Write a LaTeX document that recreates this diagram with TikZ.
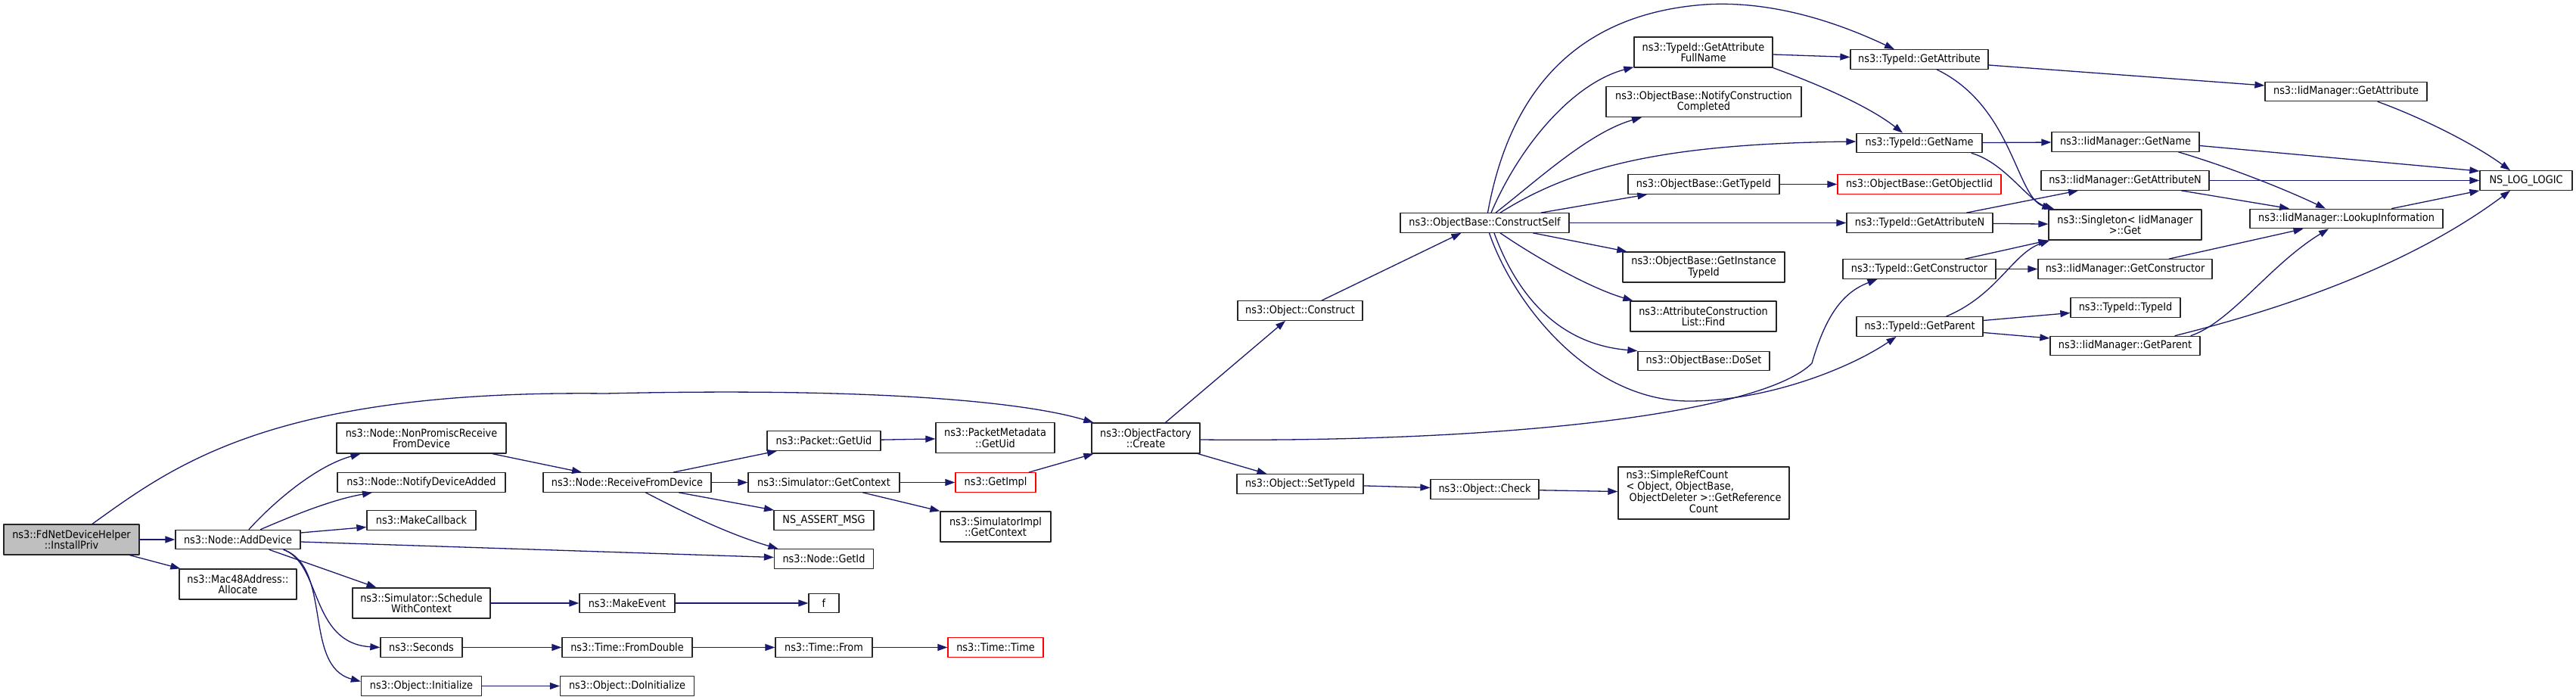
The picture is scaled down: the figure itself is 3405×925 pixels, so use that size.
\documentclass[tikz,border=0pt]{standalone}
\usepackage{fontspec}
\usepackage{tikz}
\usetikzlibrary{arrows.meta}
\newfontfamily\dotfont{DejaVu Sans}[FakeStretch=0.9]
\definecolor{edgeblue}{HTML}{191970}
\definecolor{boxgray}{HTML}{BFBFBF}

\begin{document}
\begin{tikzpicture}[line cap=round,line join=round,>={Triangle[length=13pt,width=9pt]},x=1pt,y=-1pt,
  fn/.style={draw=black!85,line width=1.3pt,fill=white,inner xsep=2pt,inner ysep=1pt,minimum height=25.5pt,align=center,font={\dotfont\fontsize{14.3pt}{14.5pt}\selectfont}},
  fn2/.style={fn,minimum height=40pt},
  call/.style={->,draw=edgeblue,line width=1.3pt}]

\fill[white] (0,0) rectangle (3405,925);
\useasboundingbox (0,0) rectangle (3405,925);

\node[fn2,fill=boxgray,minimum width=179pt] (install) at (94.5,713) {ns3::FdNetDeviceHelper\\::InstallPriv};
\node[fn,minimum width=165pt] (adddev) at (314.5,713) {ns3::Node::AddDevice};
\node[fn2,minimum width=155pt] (alloc) at (314.5,772) {ns3::Mac48Address::\\Allocate};
\node[fn2,minimum width=224pt] (nonprom) at (557,579) {ns3::Node::NonPromiscReceive\\FromDevice};
\node[fn,minimum width=222pt] (notify) at (557,637.5) {ns3::Node::NotifyDeviceAdded};
\node[fn,minimum width=144pt] (makecb) at (557,687.5) {ns3::MakeCallback};
\node[fn2,minimum width=182pt] (sched) at (557,797) {ns3::Simulator::Schedule\\WithContext};
\node[fn,minimum width=108pt] (seconds) at (557,855.5) {ns3::Seconds};
\node[fn,minimum width=159pt] (init) at (557,906.5) {ns3::Object::Initialize};
\node[fn,minimum width=222pt] (recv) at (829,637.5) {ns3::Node::ReceiveFromDevice};
\node[fn,minimum width=126pt] (mkevent) at (829,797) {ns3::MakeEvent};
\node[fn,minimum width=172pt] (fromdbl) at (829,855.5) {ns3::Time::FromDouble};
\node[fn,minimum width=177pt] (doinit) at (829,906.5) {ns3::Object::DoInitialize};
\node[fn,minimum width=150pt] (pktuid) at (1089,582.5) {ns3::Packet::GetUid};
\node[fn,minimum width=200pt] (getctx) at (1089,637.5) {ns3::Simulator::GetContext};
\node[fn,minimum width=132pt] (assertmsg) at (1089,687.5) {NS\_ASSERT\_MSG};
\node[fn,minimum width=131pt] (getid) at (1089,738.5) {ns3::Node::GetId};
\node[fn,minimum width=40pt] (fnf) at (1089,797) {f};
\node[fn,minimum width=128pt] (tfrom) at (1089,855.5) {ns3::Time::From};
\node[fn2,minimum width=157pt] (pmuid) at (1315.5,578.5) {ns3::PacketMetadata\\::GetUid};
\node[fn,draw=red,minimum width=106pt] (getimpl) at (1316,637.5) {ns3::GetImpl};
\node[fn2,minimum width=146pt] (simctx) at (1316,696) {ns3::SimulatorImpl\\::GetContext};
\node[fn,draw=red,minimum width=126pt] (ttime) at (1316,855.5) {ns3::Time::Time};
\node[fn2,minimum width=143pt] (create) at (1514.5,579) {ns3::ObjectFactory\\::Create};
\node[fn,minimum width=165pt] (construct) at (1718.5,410.5) {ns3::Object::Construct};
\node[fn,minimum width=167pt] (settype) at (1718.5,639.5) {ns3::Object::SetTypeId};
\node[fn,minimum width=223pt] (cself) at (1962.5,294.5) {ns3::ObjectBase::ConstructSelf};
\node[fn,minimum width=143pt] (check) at (1962.5,646.5) {ns3::Object::Check};
\node[fn2,minimum width=183pt] (fullname) at (2251.5,69) {ns3::TypeId::GetAttribute\\FullName};
\node[fn2,minimum width=258pt] (notifyc) at (2252,134.5) {ns3::ObjectBase::NotifyConstruction\\Completed};
\node[fn,minimum width=200pt] (obtid) at (2252,243.5) {ns3::ObjectBase::GetTypeId};
\node[fn2,minimum width=214pt] (insttid) at (2252,353) {ns3::ObjectBase::GetInstance\\TypeId};
\node[fn2,minimum width=193pt] (find) at (2251.5,418) {ns3::AttributeConstruction\\List::Find};
\node[fn,minimum width=174pt] (doset) at (2252,477) {ns3::ObjectBase::DoSet};
\node[fn,minimum width=226pt,minimum height=69pt] (simpleref) at (2252,651.5) {\begin{tabular}{@{}l@{}}ns3::SimpleRefCount\\< Object, ObjectBase,\\\ ObjectDeleter >::GetReference\\\multicolumn{1}{@{}c@{}}{Count}\end{tabular}};
\node[fn,minimum width=182pt] (tgetattr) at (2537,78.5) {ns3::TypeId::GetAttribute};
\node[fn,minimum width=166pt] (tgetname) at (2537,189) {ns3::TypeId::GetName};
\node[fn,draw=red,minimum width=216pt] (objiid) at (2537,243.5) {ns3::ObjectBase::GetObjectIid};
\node[fn,minimum width=193pt] (tgetattrn) at (2537.5,294.5) {ns3::TypeId::GetAttributeN};
\node[fn,minimum width=202pt] (tgetctor) at (2537,355.5) {ns3::TypeId::GetConstructor};
\node[fn,minimum width=167pt] (tgetparent) at (2537.5,431.5) {ns3::TypeId::GetParent};
\node[fn,minimum width=195pt] (iname) at (2809.5,187.5) {ns3::IidManager::GetName};
\node[fn,minimum width=222pt] (iattrn) at (2809,238.5) {ns3::IidManager::GetAttributeN};
\node[fn2,minimum width=202pt] (singleton) at (2809,297) {ns3::Singleton< IidManager\\>::Get};
\node[fn,minimum width=230pt] (ictor) at (2809,355.5) {ns3::IidManager::GetConstructor};
\node[fn,minimum width=145pt] (ttypeid) at (2809.5,406.5) {ns3::TypeId::TypeId};
\node[fn,minimum width=198pt] (iparent) at (2809,457) {ns3::IidManager::GetParent};
\node[fn,minimum width=214pt] (iattr) at (3101,121) {ns3::IidManager::GetAttribute};
\node[fn,minimum width=255pt] (lookup) at (3101.5,289) {ns3::IidManager::LookupInformation};
\node[fn,minimum width=122pt] (nslog) at (3339,238.5) {NS\_LOG\_LOGIC};

\draw[call] ([xshift=27.5pt]install.north) .. controls (230,615) and (360,515) .. (800,520) .. controls (1150,512) and (1350,530) .. ([xshift=3pt]create.north west);
\draw[call] (install) -- (adddev);
\draw[call] ([xshift=77pt]install.south) -- ([xshift=2pt]alloc.north west);
\draw[call] ([xshift=14.5pt]adddev.north) .. controls (365,660) and (420,615) .. ([xshift=-80.5pt]nonprom.south);
\draw[call] ([xshift=30pt]adddev.north) .. controls (390,680) and (440,660) .. ([xshift=-65pt]notify.south);
\draw[call] ([yshift=9pt]adddev.east) -- ([yshift=-9pt]makecb.west);
\draw[call] ([yshift=-3pt]adddev.east) -- ([yshift=2pt]getid.west);
\draw[call] ([xshift=41.5pt]adddev.south) -- ([xshift=-59.5pt]sched.north);
\draw[call] ([xshift=60.5pt]adddev.south) .. controls (425,745) and (410,850) .. (seconds.west);
\draw[call] ([xshift=60.5pt]adddev.south) .. controls (440,750) and (400,880) .. ([yshift=6pt]init.west);
\draw[call] ([xshift=94pt]nonprom.south) -- ([xshift=-60pt]recv.north);
\draw[call] ([xshift=61pt]recv.north) -- ([xshift=-62pt]pktuid.south);
\draw[call] (recv) -- (getctx);
\draw[call] ([xshift=68.5pt]recv.south) -- ([xshift=-66pt]assertmsg.north);
\draw[call] ([xshift=24.5pt]recv.south) .. controls (900,675) and (960,705) .. ([xshift=-60.5pt]getid.north);
\draw[call] (sched) -- (mkevent);
\draw[call] (mkevent) -- (fnf);
\draw[call] (seconds) -- (fromdbl);
\draw[call] (fromdbl) -- (tfrom);
\draw[call] (tfrom) -- (ttime);
\draw[call] (init) -- (doinit);
\draw[call] (pktuid) -- (pmuid);
\draw[call] (getctx) -- (getimpl);
\draw[call] ([xshift=51.5pt]getctx.south) -- (simctx.north west);
\draw[call] ([xshift=44pt]getimpl.north) -- ([xshift=3pt]create.south west);
\draw[call] ([xshift=26pt]create.north) -- ([xshift=-19.5pt]construct.south);
\draw[call] ([xshift=-3pt]create.south east) -- ([xshift=-44pt]settype.north);
\draw[call] ([yshift=-2pt]create.east) .. controls (2000,585) and (2330,545) .. (2395,480) .. controls (2415,410) and (2440,385) .. ([xshift=-55.5pt]tgetctor.south);
\draw[call] ([xshift=28.5pt]construct.north) -- ([xshift=-31pt]cself.south);
\draw[call] (settype) -- (check);
\draw[call] (check) -- (simpleref);
\draw[call] ([xshift=4pt]cself.north) .. controls (1990,150) and (2060,20) .. (2254,6) .. controls (2350,0) and (2440,35) .. ([xshift=-33pt]tgetattr.north);
\draw[call] ([xshift=8.5pt]cself.north) .. controls (2010,190) and (2080,110) .. ([yshift=1pt]fullname.south west);
\draw[call] ([xshift=14.5pt]cself.north) .. controls (2030,240) and (2100,175) .. ([xshift=-82pt]notifyc.south);
\draw[call] ([xshift=20.5pt]cself.north) .. controls (2080,220) and (2200,190) .. ([yshift=2pt]tgetname.west);
\draw[call] ([xshift=74.5pt]cself.north) -- ([xshift=26pt]obtid.south west);
\draw[call] (cself) -- (tgetattrn);
\draw[call] ([xshift=64pt]cself.south) -- ([xshift=6pt]insttid.north west);
\draw[call] ([xshift=20.5pt]cself.south) .. controls (2030,340) and (2100,380) .. ([xshift=4pt]find.north west);
\draw[call] ([xshift=12.5pt]cself.south) .. controls (2005,390) and (2060,455) .. (doset.north west);
\draw[call] ([xshift=6pt]cself.south) .. controls (2000,400) and (2100,530) .. (2233,530) .. controls (2330,530) and (2440,490) .. ([xshift=-31pt]tgetparent.south);
\draw[call] ([yshift=-3pt]fullname.east) -- ([yshift=3pt]tgetattr.west);
\draw[call] (fullname.south east) .. controls (2400,110) and (2470,140) .. ([xshift=-22pt]tgetname.north);
\draw[call] ([yshift=-7.5pt]tgetattr.east) -- ([yshift=8pt]iattr.west);
\draw[call] ([xshift=23pt]tgetattr.south) .. controls (2660,140) and (2665,260) .. ([xshift=5pt]singleton.north west);
\draw[call] (tgetname) -- (iname);
\draw[call] ([xshift=69pt]tgetname.south) .. controls (2650,215) and (2680,265) .. ([xshift=8pt]singleton.north west);
\draw[call] (obtid) -- (objiid);
\draw[call] ([xshift=62pt]tgetattrn.north) -- ([xshift=-62pt]iattrn.south);
\draw[call] (tgetattrn) -- (singleton);
\draw[call] ([xshift=60.5pt]tgetctor.north) -- (singleton.south west);
\draw[call] (tgetctor) -- (ictor);
\draw[call] ([xshift=35pt]tgetparent.north) .. controls (2640,390) and (2660,335) .. ([xshift=2pt]singleton.south west);
\draw[call] ([yshift=8pt]tgetparent.east) -- ([yshift=-7pt]ttypeid.west);
\draw[call] ([yshift=-8pt]tgetparent.east) -- ([yshift=10pt]iparent.west);
\draw[call] ([xshift=42pt]iattr.south) .. controls (3200,155) and (3270,190) .. ([xshift=-21pt]nslog.north);
\draw[call] ([yshift=-5pt]iname.east) -- ([yshift=-1pt]nslog.north west);
\draw[call] ([xshift=70pt]iname.south) .. controls (2950,222) and (3020,250) .. ([xshift=-27.5pt]lookup.north);
\draw[call] (iattrn) -- (nslog);
\draw[call] ([xshift=74.5pt]iattrn.south) -- ([xshift=-75.5pt]lookup.north);
\draw[call] ([xshift=58pt]ictor.north) -- ([xshift=-57pt]lookup.south);
\draw[call] ([xshift=87pt]iparent.north) .. controls (2950,425) and (3000,350) .. ([xshift=-23.5pt]lookup.south);
\draw[call] ([xshift=66pt]iparent.north) .. controls (3050,400) and (3200,340) .. ([xshift=-21pt]nslog.south);
\draw[call] ([xshift=60pt]lookup.north) -- (nslog.south west);
\end{tikzpicture}
\end{document}
